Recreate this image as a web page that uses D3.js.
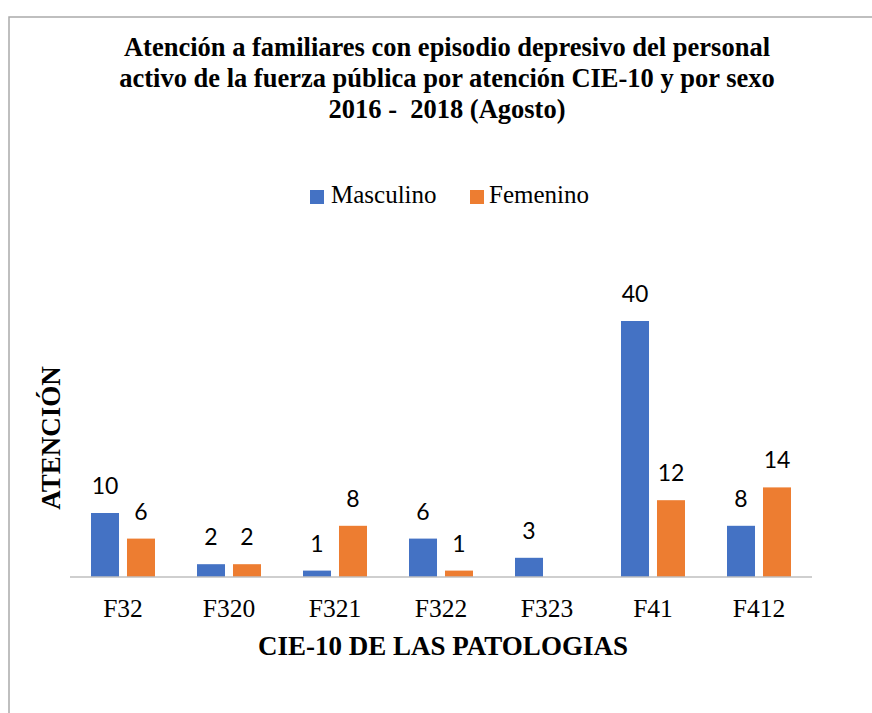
<!DOCTYPE html>
<html>
<head>
<meta charset="utf-8">
<script src="https://cdn.jsdelivr.net/npm/d3@7"></script>
<style>
  html, body { margin: 0; padding: 0; background: #fff; }
  svg { display: block; }
</style>
</head>
<body>
<script>
// Chart data
const categories = ["F32", "F320", "F321", "F322", "F323", "F41", "F412"];
const seriesNames = ["Masculino", "Femenino"];
const masculino = [10, 2, 1, 6, 3, 40, 8];
const femenino = [6, 2, 8, 1, null, 12, 14];
const titleLines = [
  "Atención a familiares con episodio depresivo del personal",
  "activo de la fuerza pública por atención CIE-10 y por sexo",
  "2016 -  2018 (Agosto)"
];
const xTitle = "CIE-10 DE LAS PATOLOGIAS";
const yTitle = "ATENCIÓN";

const colors = { Masculino: "#4472C4", Femenino: "#ED7D31" };
const serif = "'Liberation Serif', 'Times New Roman', serif";
const sans = "Lato, 'Open Sans', sans-serif";

const W = 872, H = 713;
const plot = { left: 70, right: 812, top: 257, bottom: 577 };

const svg = d3.select("body").append("svg")
  .attr("width", W).attr("height", H);

svg.append("rect").attr("width", W).attr("height", H).attr("fill", "#fff");

// chart area frame (runs off the right and bottom edges)
svg.append("path")
  .attr("d", `M9,${H + 5} L9,17 L${W + 5},17`)
  .attr("fill", "none").attr("stroke", "#ABABAB").attr("stroke-width", 1.5);

// title
const title = svg.append("text")
  .attr("text-anchor", "middle")
  .attr("font-family", serif).attr("font-weight", "bold")
  .attr("font-size", 26.5).attr("fill", "#000");
titleLines.forEach((line, i) => {
  title.append("tspan").attr("x", 447).attr("y", 56 + i * 31)
    .attr("xml:space", "preserve").text(line);
});

// legend
const legendItems = [
  { name: "Masculino", sq: 310, tx: 331 },
  { name: "Femenino", sq: 470, tx: 489 }
];
const legend = svg.append("g");
legendItems.forEach(d => {
  legend.append("rect").attr("x", d.sq).attr("y", 190)
    .attr("width", 14).attr("height", 14).attr("fill", colors[d.name]);
  legend.append("text").attr("x", d.tx).attr("y", 203)
    .attr("font-family", serif).attr("font-size", 25).attr("fill", "#000")
    .text(d.name);
});

// scales
const x = d3.scaleBand().domain(categories).range([plot.left, plot.right]).padding(0);
const groupW = 64;
const xs = d3.scaleBand().domain(seriesNames)
  .range([(x.bandwidth() - groupW) / 2, (x.bandwidth() + groupW) / 2])
  .paddingInner(0.222).paddingOuter(0);
const y = d3.scaleLinear().domain([0, 50]).range([plot.bottom, plot.top]);

const rows = categories.map((c, i) => ({
  cat: c,
  vals: [
    { s: "Masculino", v: masculino[i] },
    { s: "Femenino", v: femenino[i] }
  ]
}));

const groups = svg.append("g").selectAll("g").data(rows).join("g")
  .attr("transform", d => `translate(${x(d.cat)},0)`);

groups.selectAll("rect").data(d => d.vals.filter(v => v.v != null)).join("rect")
  .attr("x", d => xs(d.s))
  .attr("width", xs.bandwidth())
  .attr("y", d => y(d.v))
  .attr("height", d => y(0) - y(d.v))
  .attr("fill", d => colors[d.s]);

groups.selectAll("text.val").data(d => d.vals.filter(v => v.v != null)).join("text")
  .attr("class", "val")
  .attr("x", d => xs(d.s) + xs.bandwidth() / 2)
  .attr("y", d => y(d.v) - 19)
  .attr("text-anchor", "middle")
  .attr("font-family", sans).attr("font-size", 23).attr("fill", "#000")
  .text(d => d.v);

// x axis
const xAxis = svg.append("g")
  .attr("transform", `translate(0,${plot.bottom})`)
  .call(d3.axisBottom(x).tickSize(0).tickPadding(0));
xAxis.select(".domain").attr("stroke", "#BFBFBF").attr("stroke-width", 1.5)
  .attr("d", `M${plot.left},0H${plot.right}`);
xAxis.selectAll(".tick text")
  .attr("font-family", serif).attr("font-size", 25.5).attr("fill", "#000")
  .attr("dy", null).attr("y", 40);

// axis titles
svg.append("text").attr("x", 443).attr("y", 655)
  .attr("text-anchor", "middle")
  .attr("font-family", serif).attr("font-weight", "bold").attr("font-size", 27)
  .attr("fill", "#000").text(xTitle);

svg.append("text")
  .attr("transform", "translate(60,438) rotate(-90)")
  .attr("text-anchor", "middle")
  .attr("font-family", serif).attr("font-weight", "bold").attr("font-size", 27)
  .attr("fill", "#000").text(yTitle);
</script>
</body>
</html>
